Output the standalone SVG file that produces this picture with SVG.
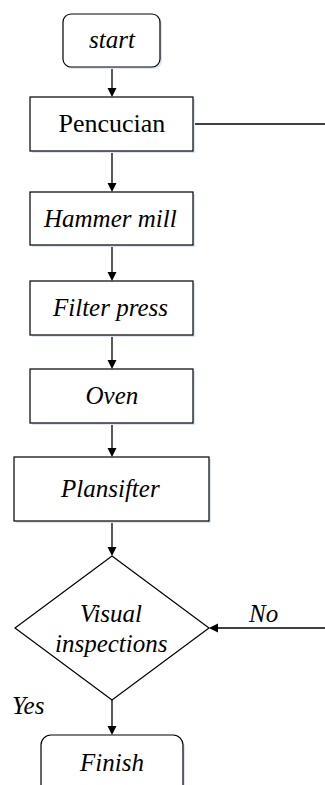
<svg xmlns="http://www.w3.org/2000/svg" width="325" height="785" viewBox="0 0 325 785">
<g id="connectors">
<g fill="none" stroke="#000" stroke-width="1.3">
<line x1="112" y1="67" x2="112" y2="90"/>
<line x1="112" y1="151" x2="112" y2="185"/>
<line x1="112" y1="245" x2="112" y2="274"/>
<line x1="112" y1="335" x2="112" y2="362"/>
<line x1="112" y1="423" x2="112" y2="450"/>
<line x1="112" y1="521" x2="112" y2="549"/>
<line x1="112" y1="700" x2="112" y2="728"/>
<line x1="193" y1="124" x2="325" y2="124"/>
<line x1="325" y1="628" x2="216" y2="628"/>
</g>
<g fill="#000">
<path d="M107.5,88 L116.5,88 L112,97 Z"/>
<path d="M107.5,183 L116.5,183 L112,192 Z"/>
<path d="M107.5,272 L116.5,272 L112,281 Z"/>
<path d="M107.5,360 L116.5,360 L112,369 Z"/>
<path d="M107.5,448 L116.5,448 L112,457 Z"/>
<path d="M107.5,547 L116.5,547 L112,556 Z"/>
<path d="M107.5,726 L116.5,726 L112,735 Z"/>
<path d="M218,623.5 L218,632.5 L209,628 Z"/>
</g>
</g>
<text x="249" y="622" font-family="Liberation Serif" font-size="25" font-style="italic">No</text>
<text x="12" y="714" font-family="Liberation Serif" font-size="25" font-style="italic">Yes</text>
<g id="start">
<rect x="65" y="16" width="97" height="53" rx="8" fill="#dbe5f3"/>
<rect x="63" y="14" width="97" height="53" rx="8" fill="#fff" stroke="#000" stroke-width="1.2"/>
<text x="89" y="48" font-family="Liberation Serif" font-size="25" font-style="italic">start</text>
</g>
<g id="pencucian">
<rect x="32" y="99" width="163" height="54" fill="#dbe5f3"/>
<rect x="30" y="97" width="163" height="54" fill="#fff" stroke="#000" stroke-width="1.2"/>
<text x="58.5" y="132" font-family="Liberation Serif" font-size="26">Pencucian</text>
</g>
<g id="hammer">
<rect x="32" y="194" width="163" height="53" fill="#dbe5f3"/>
<rect x="30" y="192" width="163" height="53" fill="#fff" stroke="#000" stroke-width="1.2"/>
<text x="44" y="227" font-family="Liberation Serif" font-size="25" font-style="italic">Hammer mill</text>
</g>
<g id="filter">
<rect x="32" y="283" width="163" height="54" fill="#dbe5f3"/>
<rect x="30" y="281" width="163" height="54" fill="#fff" stroke="#000" stroke-width="1.2"/>
<text x="53" y="316" font-family="Liberation Serif" font-size="25" font-style="italic">Filter press</text>
</g>
<g id="oven">
<rect x="32" y="371" width="163" height="54" fill="#dbe5f3"/>
<rect x="30" y="369" width="163" height="54" fill="#fff" stroke="#000" stroke-width="1.2"/>
<text x="85.5" y="404" font-family="Liberation Serif" font-size="25" font-style="italic">Oven</text>
</g>
<g id="plansifter">
<rect x="16" y="459" width="195" height="64" fill="#dbe5f3"/>
<rect x="14" y="457" width="195" height="64" fill="#fff" stroke="#000" stroke-width="1.2"/>
<text x="61" y="497" font-family="Liberation Serif" font-size="25" font-style="italic">Plansifter</text>
</g>
<g id="visual">
<path d="M112,556 L209,628 L112,700 L15,628 Z" fill="#fff" stroke="#000" stroke-width="1.2"/>
<text x="80" y="622" font-family="Liberation Serif" font-size="25" font-style="italic">Visual</text>
<text x="55" y="652" font-family="Liberation Serif" font-size="25" font-style="italic">inspections</text>
</g>
<g id="finish">
<rect x="43" y="737" width="142" height="60" rx="10" fill="#dbe5f3"/>
<rect x="41" y="735" width="142" height="60" rx="10" fill="#fff" stroke="#000" stroke-width="1.2"/>
<text x="80" y="771" font-family="Liberation Serif" font-size="25" font-style="italic">Finish</text>
</g>
</svg>
